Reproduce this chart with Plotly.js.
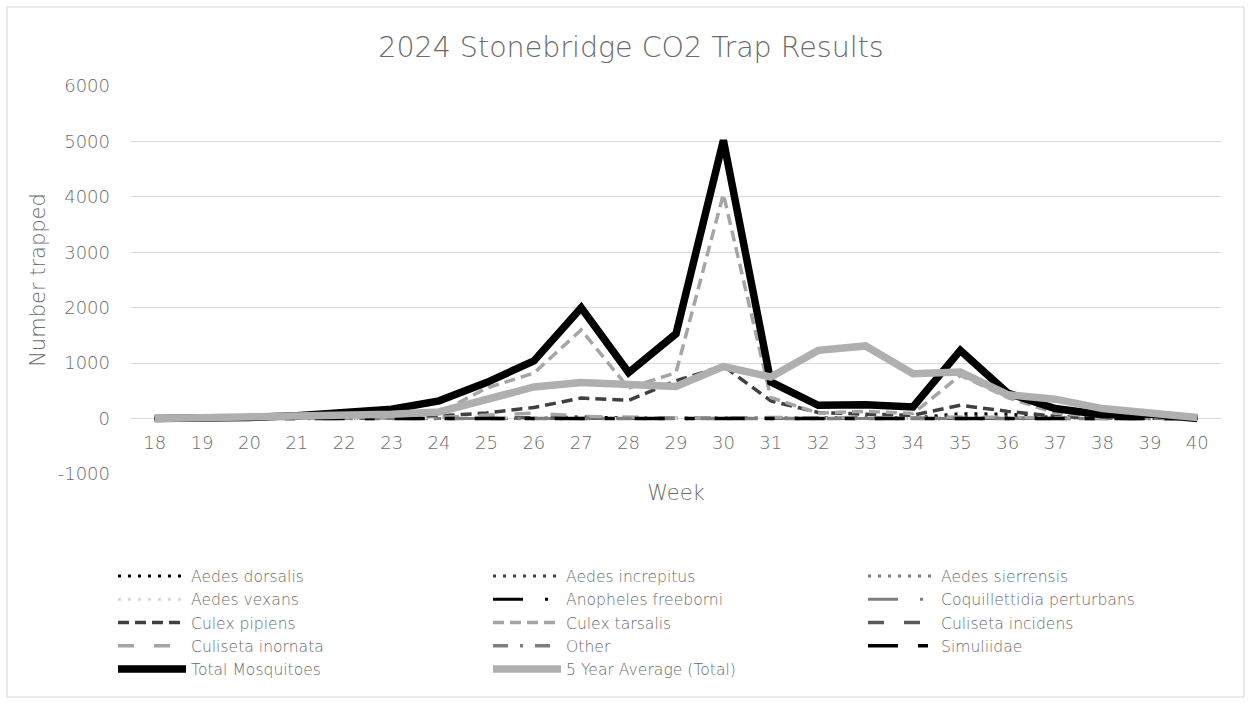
<!DOCTYPE html>
<html>
<head>
<meta charset="utf-8">
<script src="https://cdn.plot.ly/plotly-3.0.1.min.js"></script>
<style>
  html, body { margin: 0; padding: 0; background: #fff; }
  #chart { width: 1251px; height: 704px; }
</style>
</head>
<body>
<div id="chart"></div>
<script>
// ---- data ----
const weeks = [18,19,20,21,22,23,24,25,26,27,28,29,30,31,32,33,34,35,36,37,38,39,40];

const aedesDorsalis      = [0,0,0,0,0,0,0,0,5,30,10,5,5,5,0,0,10,90,80,20,0,0,0];
const aedesIncrepitus    = [0,0,0,0,0,0,0,0,0,5,0,0,0,0,0,0,5,40,30,5,0,0,0];
const aedesSierrensis    = [0,0,0,0,0,0,0,0,0,0,0,0,0,0,0,0,0,10,5,0,0,0,0];
const aedesVexans        = [0,0,0,0,0,0,20,30,10,0,0,0,0,0,0,0,0,0,0,0,0,0,0];
const anophelesFreeborni = [0,0,0,0,0,0,0,0,0,0,0,0,0,0,0,0,0,0,0,0,0,0,0];
const coquillettidia     = [0,0,0,0,0,0,5,10,5,5,0,0,0,0,0,0,0,5,0,0,0,0,0];
const culexPipiens       = [0,0,0,5,10,30,50,100,200,370,330,680,950,320,110,80,60,240,130,40,10,5,0];
const culexTarsalis      = [0,0,5,10,20,40,100,550,820,1600,550,830,4050,380,100,130,90,780,380,100,30,20,0];
const culisetaIncidens   = [0,0,0,0,10,20,30,20,10,10,5,5,5,5,20,20,20,10,5,5,0,0,0];
const culisetaInornata   = [0,0,0,0,5,10,20,60,100,40,20,10,10,20,10,20,10,30,20,10,5,0,0];
const other              = [0,0,0,0,0,0,5,10,5,5,5,0,5,5,0,0,0,5,5,0,0,0,0];
const simuliidae         = [0,0,0,0,0,0,0,0,0,0,0,0,0,0,0,0,0,0,0,0,0,0,0];
const totalMosquitoes    = [0,5,20,50,100,170,320,650,1040,2000,830,1530,5020,660,240,250,210,1230,460,180,70,80,0];
const fiveYearAverage    = [0,10,30,50,60,80,120,350,570,650,610,580,940,750,1230,1310,810,840,430,350,180,100,20];

const yTicks = [-1000,0,1000,2000,3000,4000,5000,6000];

// ---- traces ----
function line(name, y, color, width, dash) {
  return { type: 'scatter', mode: 'lines', name: name, x: weeks, y: y,
           line: { color: color, width: width, dash: dash, shape: 'linear' },
           hoverinfo: 'x+y+name' };
}

const traces = [
  line('Aedes dorsalis', aedesDorsalis, '#000000', 3, '3px,7px'),
  line('Aedes increpitus', aedesIncrepitus, '#404040', 3, '3px,7px'),
  line('Aedes sierrensis', aedesSierrensis, '#7f7f7f', 3, '3px,7px'),
  line('Aedes vexans', aedesVexans, '#d9d9d9', 3, '3px,7px'),
  line('Anopheles freeborni', anophelesFreeborni, '#000000', 3, '30px,22px,3px,22px'),
  line('Coquillettidia perturbans', coquillettidia, '#7f7f7f', 3, '30px,22px,3px,22px'),
  line('Culex pipiens', culexPipiens, '#404040', 3.5, '11px,6px'),
  line('Culex tarsalis', culexTarsalis, '#a5a5a5', 3.5, '11px,6px'),
  line('Culiseta incidens', culisetaIncidens, '#595959', 3.5, '16px,20px'),
  line('Culiseta inornata', culisetaInornata, '#a5a5a5', 3.5, '16px,20px'),
  line('Other', other, '#7f7f7f', 3.5, '15px,12px,3px,12px'),
  line('Simuliidae', simuliidae, '#000000', 3.5, '30px,20px,10px,20px'),
  line('Total Mosquitoes', totalMosquitoes, '#000000', 7.5, 'solid'),
  line('5 Year Average (Total)', fiveYearAverage, '#afafaf', 7.5, 'solid')
];

const fontFam = '"DejaVu Sans", Lato, sans-serif';
const grey = '#6b6b6b';

const layout = {
  width: 1251, height: 704,
  paper_bgcolor: '#ffffff', plot_bgcolor: '#ffffff',
  margin: { l: 131, r: 30, t: 86, b: 230, pad: 0 },
  font: { family: fontFam, color: grey, size: 16, weight: 200 },
  title: { text: '2024 Stonebridge CO2 Trap Results', x: 0.4587, xref: 'paper', xanchor: 'center',
           y: 0.933, yref: 'container', yanchor: 'middle',
           font: { family: fontFam, size: 28.5, color: grey, weight: 200 } },
  xaxis: {
    type: 'linear', range: [17.5, 40.5],
    tickmode: 'array', tickvals: weeks, ticktext: weeks.map(String),
    anchor: 'free', position: 1/7,
    showgrid: false, zeroline: false, showline: false, ticks: '',
    ticklabelstandoff: 11,
    tickfont: { family: fontFam, size: 18, color: grey, weight: 200 },
    title: { text: 'Week', standoff: 33, font: { family: fontFam, size: 21, color: grey, weight: 200 } },
    fixedrange: true
  },
  yaxis: {
    range: [-1000, 6000], tickmode: 'array', tickvals: yTicks, ticktext: yTicks.map(String),
    showgrid: true, gridcolor: '#d9d9d9', gridwidth: 1.3,
    zeroline: false, showline: false, ticks: '',
    ticklabelstandoff: 20,
    tickfont: { family: fontFam, size: 18, color: grey, weight: 200 },
    title: { text: 'Number trapped', standoff: 6, font: { family: fontFam, size: 21, color: grey, weight: 200 } },
    fixedrange: true
  },
  showlegend: true,
  legend: {
    orientation: 'h', x: -0.0165, xanchor: 'left', y: -0.22, yanchor: 'top',
    itemwidth: 68, entrywidth: 292, traceorder: 'normal',
    font: { family: fontFam, size: 15.6, color: grey, weight: 200 },
    bgcolor: 'rgba(0,0,0,0)', itemclick: false, itemdoubleclick: false
  },
  shapes: [{
    type: 'rect', xref: 'paper', yref: 'paper', layer: 'below',
    x0: (7 - 131) / 1090, x1: (1244 - 131) / 1090,
    y0: (474 - 697) / 388, y1: (474 - 7) / 388,
    line: { color: '#d9d9d9', width: 1.2 }, fillcolor: 'rgba(0,0,0,0)'
  }]
};

Plotly.newPlot('chart', traces, layout, { displayModeBar: false, staticPlot: false, responsive: false });
</script>
</body>
</html>
